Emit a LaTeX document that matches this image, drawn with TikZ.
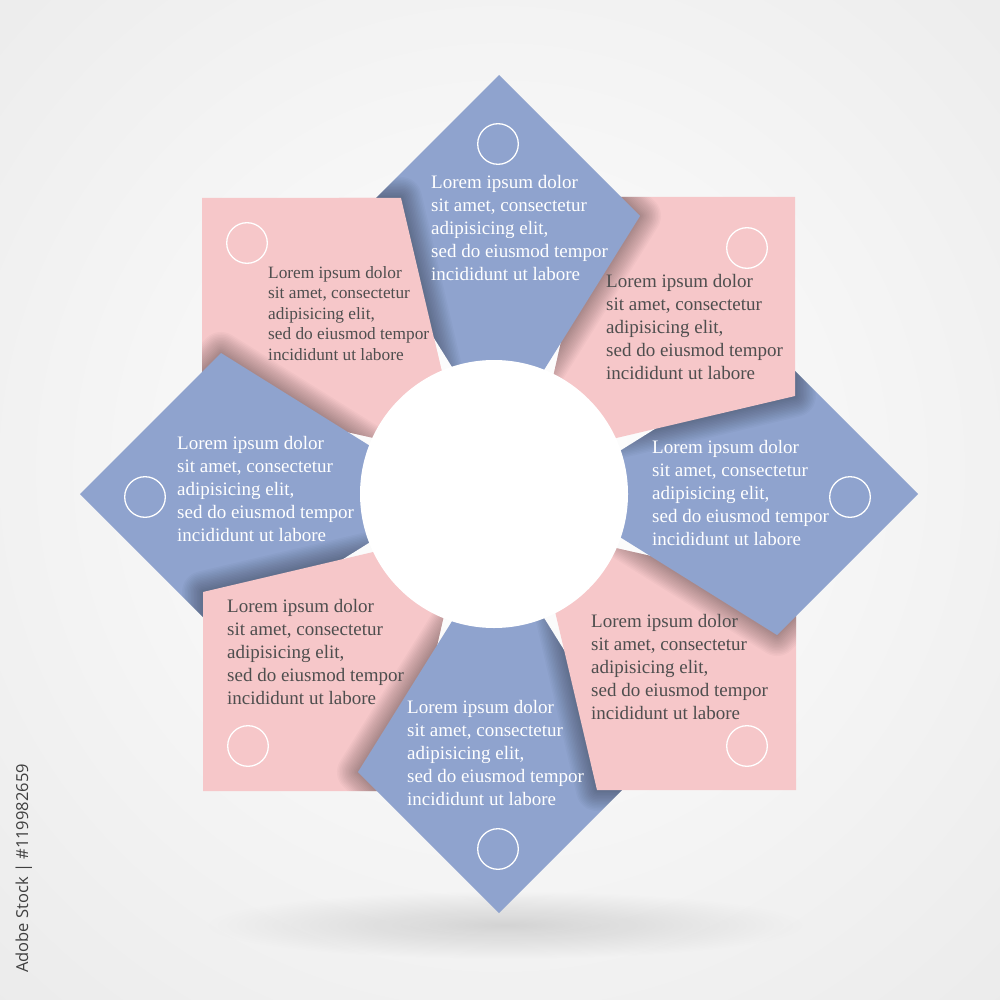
\documentclass[tikz,border=0pt]{standalone}
\usepackage{fontspec}
\setmainfont{Liberation Serif}
\newfontfamily\labelfont{Open Sans}
\usetikzlibrary{fadings}
\definecolor{pinkF}{HTML}{F6C7C9}
\definecolor{blueF}{HTML}{8FA3CE}
\definecolor{darktxt}{HTML}{4E4E4E}
\definecolor{bgout}{HTML}{DCDCDC}
\tikzfading[name=myfade, inner color=transparent!0, outer color=transparent!100]
\newcommand{\loremtext}{\begin{tabular}[t]{@{}l@{}}Lorem ipsum dolor\\sit amet, consectetur\\adipisicing elit,\\sed do eiusmod tempor\\incididunt ut labore\end{tabular}}
% soft shadow strokes of an upper piece
\newcommand{\shadowstrokes}[2]{%
  \foreach \w in {3,6,...,42} {\draw[shift={(499,494)}, rotate=#2, line width=\w pt, black, opacity=0.024, line join=round, #1];}}
% #1 lower path style, #2 lower rotation, #3 upper path style, #4 upper rotation
\newcommand{\castshadow}[4]{%
  \begin{scope}
    \clip[shift={(499,494)}, rotate=#2, #1];
    \shadowstrokes{#3}{#4}
  \end{scope}}
\begin{document}
\begin{tikzpicture}[x=1pt,y=-1pt,
  bluepath/.style={insert path={(0,-419) -- (141,-278) -- (25,-92) -- (0,-40) -- (-25,-92) -- (-141,-278) -- cycle}},
  pinkpath/.style={insert path={(95,-297) -- (296,-297) -- (296,-98) -- (79,-47) -- (30,-40) -- (49,-95) -- cycle}},
  piece/.style={shift={(499,494)}},
  txtB/.style={text=white, anchor=base west, inner sep=0pt, font=\fontsize{19}{23}\selectfont},
  txtP/.style={text=darktxt, anchor=base west, inner sep=0pt, font=\fontsize{19}{23}\selectfont},
  icon/.style={circle, draw=white, line width=1.3pt, minimum size=40.6pt, inner sep=0pt}]
\useasboundingbox (0,0) rectangle (1000,1000);
% background
\fill[bgout] (0,0) rectangle (1000,1000);
\shade[inner color=white, outer color=bgout] (500,470) circle (1300pt);
\fill[black, opacity=0.13, path fading=myfade] (505,925) ellipse [x radius=300pt, y radius=34pt];
% pieces, bottom to top
\fill[pinkF, piece, rotate=90, pinkpath];            % NW (first pass)
\castshadow{pinkpath}{90}{bluepath}{90}
\fill[blueF, piece, rotate=90, bluepath];            % W
\castshadow{bluepath}{90}{pinkpath}{180}
\fill[pinkF, piece, rotate=180, pinkpath];           % SW
\castshadow{pinkpath}{180}{bluepath}{180}
\fill[blueF, piece, rotate=180, bluepath];           % S
\castshadow{bluepath}{180}{pinkpath}{-90}
\fill[pinkF, piece, rotate=-90, pinkpath];           % SE
\castshadow{pinkpath}{-90}{bluepath}{-90}
\fill[blueF, piece, rotate=-90, bluepath];           % E
\castshadow{bluepath}{-90}{pinkpath}{0}
\fill[pinkF, piece, rotate=0, pinkpath];             % NE
\castshadow{pinkpath}{0}{bluepath}{0}
\fill[blueF, piece, rotate=0, bluepath];             % N
% NW lies over N: shadow clipped to N, fill clipped to a box clear of W
\castshadow{bluepath}{0}{pinkpath}{90}
\begin{scope}
  \clip[piece] (-160,-430) rectangle (160,-100);
  \fill[pinkF, piece, rotate=90, pinkpath];
\end{scope}
% centre
\fill[white] (494,494) circle (134pt);
% icons
\node[icon] (iN) at (498,144) {};
\node[icon] (iNE) at (747,248) {};
\node[icon] (iE) at (850,497) {};
\node[icon] (iSE) at (747,746) {};
\node[icon] (iS) at (498,849) {};
\node[icon] (iSW) at (248,746) {};
\node[icon] (iW) at (145,497) {};
\node[icon] (iNW) at (247,243) {};
% texts
\node[txtB] (tN) at (431,189) {\loremtext};
\node[txtP] (tNE) at (606,287) {\loremtext};
\node[txtB] (tE) at (652,453) {\loremtext};
\node[txtP] (tSE) at (591,627) {\loremtext};
\node[txtB] (tS) at (407,713) {\loremtext};
\node[txtP] (tSW) at (227,612) {\loremtext};
\node[txtB] (tW) at (177,449) {\loremtext};
\node[txtP, font=\fontsize{17.3}{20.5}\selectfont] (tNW) at (268,278) {\loremtext};
% stock label
\node[rotate=90, anchor=base west, inner sep=0pt, text=black!75, font=\labelfont\fontsize{16.5}{19}\selectfont] (stock) at (28,973) {Adobe Stock | \#119982659};
\end{tikzpicture}
\end{document}
